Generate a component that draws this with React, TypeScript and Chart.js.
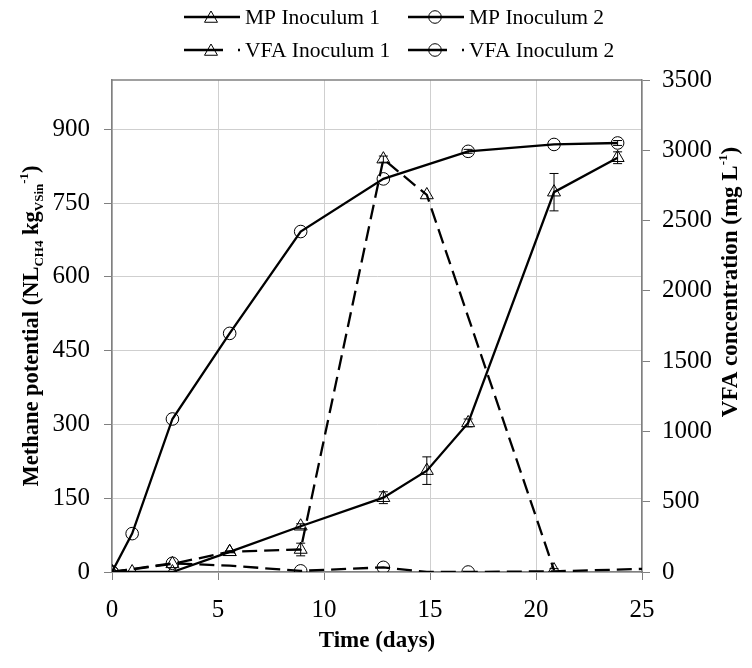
import { useEffect, useRef } from "react";
import { Chart, registerables } from "chart.js";

Chart.register(...registerables);

// ---- data ----
const X_TICKS = [0, 5, 10, 15, 20, 25];
const LEFT_TICKS = [0, 150, 300, 450, 600, 750, 900];
const RIGHT_TICKS = [0, 500, 1000, 1500, 2000, 2500, 3000, 3500];

const MP1_DAYS = [0, 0.95, 2.85, 5.55, 8.9, 12.8, 14.85, 16.8, 20.85, 23.85];
const MP1_VALUES = [0, 0, 0, 41, 93, 151, 206, 303, 772, 842];
const MP1_ERR = [0, 0, 0, 2, 5, 12, 28, 8, 38, 12];

const MP2_DAYS = [0, 0.95, 2.85, 5.55, 8.9, 12.8, 16.8, 20.85, 23.85];
const MP2_VALUES = [0, 78, 311, 485, 692, 799, 855, 869, 872];
const MP2_ERR = [0, 0, 0, 0, 0, 0, 4, 0, 5];

const VFA1_DAYS = [0, 2.85, 5.55, 8.9, 12.8, 14.85, 20.85];
const VFA1_VALUES = [0, 58, 144, 160, 2937, 2682, 14];
const VFA1_ERR = [0, 0, 0, 45, 22, 0, 10];

const VFA2_DAYS = [0, 2.85, 5.55, 8.9, 12.8, 14.85, 16.8, 20.85, 25];
const VFA2_VALUES = [0, 62, 45, 8, 33, 0, 0, 5, 22];
const VFA2_MARKED = [1, 1, 0, 1, 1, 0, 1, 0, 0];

const LABELS = ["MP Inoculum 1", "MP Inoculum 2", "VFA Inoculum 1", "VFA Inoculum 2"];

const FONT = "'Liberation Serif', 'Times New Roman', serif";
const AXIS_GREY = "#808080";
const GRID_GREY = "#cfcfcf";
const TRI_R = 7.5;
const CIR_R = 6.3;

function pts(xs: number[], ys: number[]) {
  return xs.map((x, i) => ({ x, y: ys[i] }));
}

function drawMarker(ctx: CanvasRenderingContext2D, kind: string, x: number, y: number) {
  ctx.save();
  ctx.setLineDash([]);
  ctx.lineWidth = 1;
  ctx.strokeStyle = "#000";
  ctx.beginPath();
  if (kind === "triangle") {
    const r = TRI_R;
    ctx.moveTo(x, y - r);
    ctx.lineTo(x + (r * Math.sqrt(3)) / 2, y + r / 2);
    ctx.lineTo(x - (r * Math.sqrt(3)) / 2, y + r / 2);
    ctx.closePath();
  } else {
    ctx.arc(x, y, CIR_R, 0, Math.PI * 2);
  }
  ctx.stroke();
  ctx.restore();
}

type Seg = { t: string; size: number; dy: number };

function drawRich(ctx: CanvasRenderingContext2D, segs: Seg[], cx: number, cy: number, rot: number) {
  ctx.save();
  ctx.translate(cx, cy);
  ctx.rotate(rot);
  ctx.fillStyle = "#000";
  ctx.textBaseline = "alphabetic";
  ctx.textAlign = "left";
  let total = 0;
  const widths = segs.map((s) => {
    ctx.font = `bold ${s.size}px ${FONT}`;
    const w = ctx.measureText(s.t).width;
    total += w;
    return w;
  });
  let x = -total / 2;
  const base = 8; // baseline offset so text is vertically centred
  segs.forEach((s, i) => {
    ctx.font = `bold ${s.size}px ${FONT}`;
    ctx.fillText(s.t, x, base + s.dy);
    x += widths[i];
  });
  ctx.restore();
}

export default function App() {
  const ref = useRef<HTMLCanvasElement>(null);

  useEffect(() => {
    if (!ref.current) return;
    const errs: (number[] | null)[] = [MP1_ERR, MP2_ERR, VFA1_ERR, null];

    const decorPlugin = {
      id: "decor",
      afterDatasetsDraw(chart: any) {
        const ctx: CanvasRenderingContext2D = chart.ctx;
        const xs = chart.scales.x;
        chart.data.datasets.forEach((ds: any, di: number) => {
          const e = errs[di];
          if (!e) return;
          const ys = chart.scales[ds.yAxisID];
          ctx.save();
          ctx.strokeStyle = "#000";
          ctx.lineWidth = 1;
          ctx.setLineDash([]);
          ds.data.forEach((p: any, i: number) => {
            if (!e[i]) return;
            const px = xs.getPixelForValue(p.x);
            const top = ys.getPixelForValue(p.y + e[i]);
            const bot = ys.getPixelForValue(p.y - e[i]);
            ctx.beginPath();
            ctx.moveTo(px, top);
            ctx.lineTo(px, bot);
            ctx.moveTo(px - 4.5, top);
            ctx.lineTo(px + 4.5, top);
            ctx.moveTo(px - 4.5, bot);
            ctx.lineTo(px + 4.5, bot);
            ctx.stroke();
          });
          ctx.restore();
        });
      },
      afterDraw(chart: any) {
        const ctx: CanvasRenderingContext2D = chart.ctx;
        const a = chart.chartArea;
        // top border of plot area
        ctx.save();
        ctx.strokeStyle = AXIS_GREY;
        ctx.lineWidth = 1.5;
        ctx.beginPath();
        ctx.moveTo(a.left, a.top);
        ctx.lineTo(a.right, a.top);
        ctx.stroke();
        ctx.restore();

        // legend
        const items = [
          { x: 184, y: 17, kind: "triangle", dashed: false },
          { x: 408, y: 17, kind: "circle", dashed: false },
          { x: 184, y: 50, kind: "triangle", dashed: true },
          { x: 408, y: 50, kind: "circle", dashed: true },
        ];
        items.forEach((it, i) => {
          ctx.save();
          ctx.strokeStyle = "#000";
          ctx.lineWidth = 2.3;
          ctx.beginPath();
          if (it.dashed) {
            ctx.moveTo(it.x, it.y);
            ctx.lineTo(it.x + 39, it.y);
            ctx.stroke();
            ctx.beginPath();
            ctx.moveTo(it.x + 54, it.y);
            ctx.lineTo(it.x + 56, it.y);
            ctx.stroke();
          } else {
            ctx.moveTo(it.x, it.y);
            ctx.lineTo(it.x + 56, it.y);
            ctx.stroke();
          }
          ctx.restore();
          drawMarker(ctx, it.kind, it.x + 27, it.y + (it.kind === "triangle" ? 1.5 : 0));
          ctx.save();
          ctx.fillStyle = "#000";
          ctx.font = `21.5px ${FONT}`;
          ctx.textBaseline = "middle";
          ctx.textAlign = "left";
          ctx.fillText(LABELS[i], it.x + 61, it.y + 1);
          ctx.restore();
        });

        // axis titles
        drawRich(
          ctx,
          [
            { t: "Methane potential (NL", size: 22.5, dy: 0 },
            { t: "CH4", size: 13, dy: 5 },
            { t: " kg", size: 22.5, dy: 0 },
            { t: "VSin", size: 13, dy: 5 },
            { t: "-1", size: 13, dy: -10 },
            { t: ")", size: 22.5, dy: 0 },
          ],
          30,
          (a.top + a.bottom) / 2,
          -Math.PI / 2
        );
        drawRich(
          ctx,
          [
            { t: "VFA concentration (mg L", size: 23, dy: 0 },
            { t: "-1", size: 13, dy: -10 },
            { t: ")", size: 23, dy: 0 },
          ],
          729,
          282,
          -Math.PI / 2
        );
        drawRich(ctx, [{ t: "Time (days)", size: 23, dy: 0 }], (a.left + a.right) / 2, 639, 0);
      },
    };

    const tickFont = { family: FONT, size: 25 };
    const plain = (v: any) => String(v);

    const chart = new Chart(ref.current, {
      type: "line",
      data: {
        datasets: [
          {
            label: LABELS[0],
            data: pts(MP1_DAYS, MP1_VALUES),
            yAxisID: "y",
            borderColor: "#000",
            borderWidth: 2.3,
            pointStyle: "triangle",
            pointRadius: TRI_R,
            pointBorderColor: "#000",
            pointBackgroundColor: "rgba(0,0,0,0)",
            pointBorderWidth: 1,
            tension: 0,
            fill: false,
          },
          {
            label: LABELS[1],
            data: pts(MP2_DAYS, MP2_VALUES),
            yAxisID: "y",
            borderColor: "#000",
            borderWidth: 2.3,
            pointStyle: "circle",
            pointRadius: CIR_R,
            pointBorderColor: "#000",
            pointBackgroundColor: "rgba(0,0,0,0)",
            pointBorderWidth: 1,
            tension: 0,
            fill: false,
          },
          {
            label: LABELS[2],
            data: pts(VFA1_DAYS, VFA1_VALUES),
            yAxisID: "y1",
            borderColor: "#000",
            borderWidth: 2.3,
            borderDash: [15, 7],
            pointStyle: "triangle",
            pointRadius: TRI_R,
            pointBorderColor: "#000",
            pointBackgroundColor: "rgba(0,0,0,0)",
            pointBorderWidth: 1,
            tension: 0,
            fill: false,
          },
          {
            label: LABELS[3],
            data: pts(VFA2_DAYS, VFA2_VALUES),
            yAxisID: "y1",
            borderColor: "#000",
            borderWidth: 2.3,
            borderDash: [15, 7],
            pointStyle: "circle",
            pointRadius: VFA2_MARKED.map((m) => (m ? CIR_R : 0)),
            pointBorderColor: "#000",
            pointBackgroundColor: "rgba(0,0,0,0)",
            pointBorderWidth: 1,
            tension: 0,
            fill: false,
          },
        ],
      } as any,
      options: {
        responsive: false,
        animation: false,
        events: [],
        layout: { padding: { top: 80, left: 0, right: 0, bottom: 0 } },
        plugins: { legend: { display: false }, tooltip: { enabled: false } },
        scales: {
          x: {
            type: "linear",
            min: 0,
            max: 25,
            afterBuildTicks: (s: any) => {
              s.ticks = X_TICKS.map((value) => ({ value }));
            },
            afterFit: (s: any) => {
              s.height = 96;
            },
            ticks: { font: tickFont, color: "#000", padding: 15, maxRotation: 0, callback: plain },
            grid: { color: GRID_GREY, lineWidth: 1, tickColor: AXIS_GREY, tickLength: 8 },
            border: { color: AXIS_GREY, width: 1.5 },
          },
          y: {
            type: "linear",
            position: "left",
            min: 0,
            max: 1000,
            afterBuildTicks: (s: any) => {
              s.ticks = LEFT_TICKS.map((value) => ({ value }));
            },
            afterFit: (s: any) => {
              s.width = 112;
            },
            ticks: { font: tickFont, color: "#000", padding: 14, callback: plain },
            grid: { color: GRID_GREY, lineWidth: 1, tickColor: AXIS_GREY, tickLength: 8 },
            border: { color: AXIS_GREY, width: 1.5 },
          },
          y1: {
            type: "linear",
            position: "right",
            min: 0,
            max: 3500,
            afterBuildTicks: (s: any) => {
              s.ticks = RIGHT_TICKS.map((value) => ({ value }));
            },
            afterFit: (s: any) => {
              s.width = 110;
            },
            ticks: { font: tickFont, color: "#000", padding: 12, callback: plain },
            grid: { drawOnChartArea: false, tickColor: AXIS_GREY, tickLength: 8 },
            border: { color: AXIS_GREY, width: 1.5 },
          },
        },
      } as any,
      plugins: [decorPlugin],
    });

    return () => chart.destroy();
  }, []);

  return (
    <div style={{ position: "fixed", left: 0, top: 0, width: 752, height: 668, background: "#fff" }}>
      <canvas ref={ref} width={752} height={668} style={{ display: "block", width: 752, height: 668 }} />
    </div>
  );
}
